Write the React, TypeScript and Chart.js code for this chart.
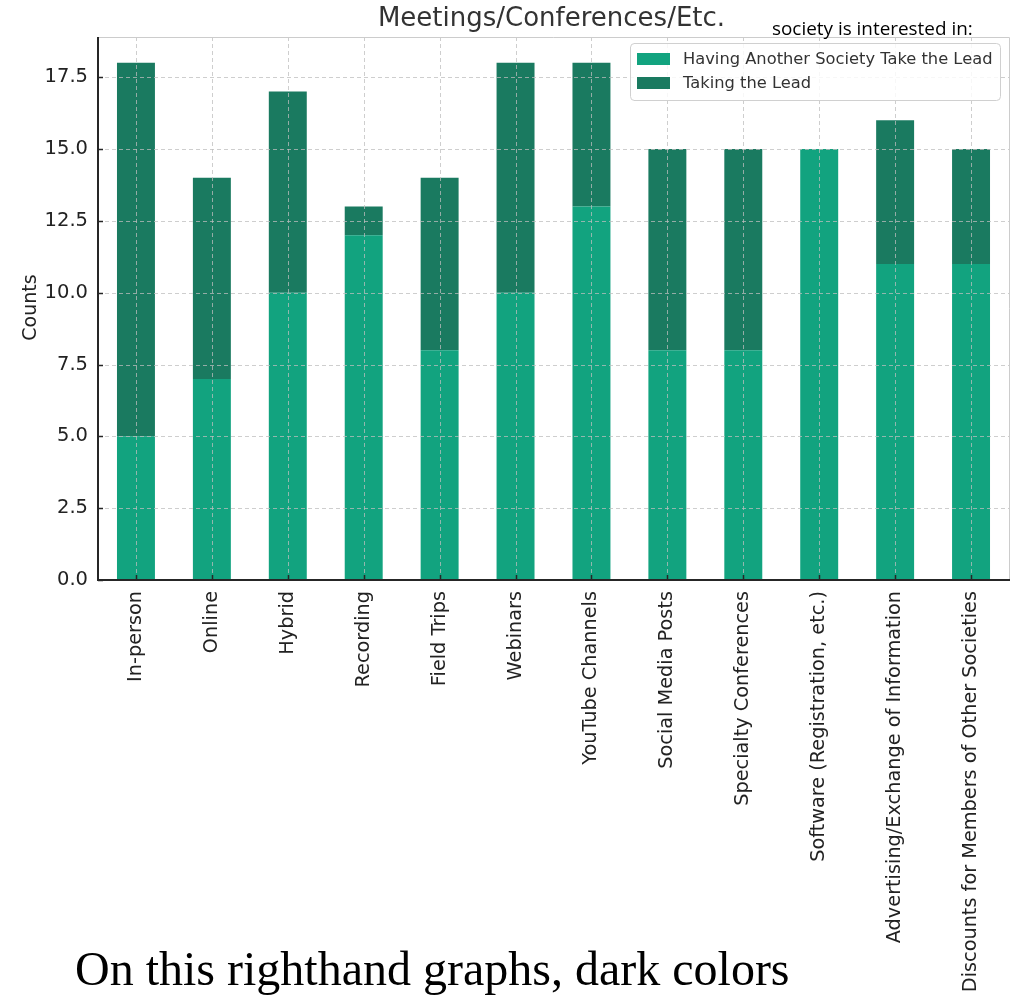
import React, { useEffect, useRef } from "react";
import { Chart, registerables } from "chart.js";

Chart.register(...registerables);

const categories = [
  "In-person",
  "Online",
  "Hybrid",
  "Recording",
  "Field Trips",
  "Webinars",
  "YouTube Channels",
  "Social Media Posts",
  "Specialty Conferences",
  "Software (Registration, etc.)",
  "Advertising/Exchange of Information",
  "Discounts for Members of Other Societies",
];

const anotherSocietyLead = [5, 7, 10, 12, 8, 10, 13, 8, 8, 15, 11, 11];
const takingTheLead = [13, 7, 7, 1, 6, 8, 5, 7, 7, 0, 5, 4];

const seriesNames = ["Having Another Society Take the Lead", "Taking the Lead"];
const seriesColors = ["#12a37f", "#1a7a60"];

const chartTitle = "Meetings/Conferences/Etc.";
const yAxisTitle = "Counts";
const yMax = 18.9;
const yStep = 2.5;

const FONT = "'DejaVu Sans', sans-serif";

const overlayPlugin = {
  id: "overlay",
  afterDatasetsDraw(chart: any) {
    const { ctx, chartArea } = chart;
    const { left, right, top, bottom } = chartArea;
    const xs = chart.scales.x;
    const ys = chart.scales.y;
    ctx.save();
    // grid
    ctx.strokeStyle = "rgba(190,190,190,0.75)";
    ctx.lineWidth = 1;
    ctx.setLineDash([4, 3]);
    ys.ticks.forEach((t: any) => {
      const y = Math.round(ys.getPixelForValue(t.value)) + 0.5;
      ctx.beginPath();
      ctx.moveTo(left, y);
      ctx.lineTo(right, y);
      ctx.stroke();
    });
    categories.forEach((_, i) => {
      const x = Math.round(xs.getPixelForValue(i)) + 0.5;
      ctx.beginPath();
      ctx.moveTo(x, top);
      ctx.lineTo(x, bottom);
      ctx.stroke();
    });
    ctx.setLineDash([]);
    // light spines
    ctx.strokeStyle = "#cccccc";
    ctx.lineWidth = 1;
    ctx.beginPath();
    ctx.moveTo(left, top + 0.5);
    ctx.lineTo(right + 0.5, top + 0.5);
    ctx.lineTo(right + 0.5, bottom);
    ctx.stroke();
    // dark spines
    ctx.strokeStyle = "#262626";
    ctx.lineWidth = 2;
    ctx.beginPath();
    ctx.moveTo(left, top);
    ctx.lineTo(left, bottom);
    ctx.lineTo(right + 1, bottom);
    ctx.stroke();
    // inward ticks
    ctx.lineWidth = 1.5;
    ys.ticks.forEach((t: any) => {
      const y = Math.round(ys.getPixelForValue(t.value)) + 0.5;
      ctx.beginPath();
      ctx.moveTo(left, y);
      ctx.lineTo(left + 5, y);
      ctx.stroke();
    });
    categories.forEach((_, i) => {
      const x = Math.round(xs.getPixelForValue(i)) + 0.5;
      ctx.beginPath();
      ctx.moveTo(x, bottom);
      ctx.lineTo(x, bottom - 5);
      ctx.stroke();
    });
    // legend
    const lx = 630, ly = 43, lw = 370, lh = 57, r = 4;
    ctx.fillStyle = "rgba(255,255,255,0.85)";
    ctx.strokeStyle = "#d0d0d0";
    ctx.lineWidth = 1;
    ctx.beginPath();
    ctx.moveTo(lx + r, ly + 0.5);
    ctx.lineTo(lx + lw - r, ly + 0.5);
    ctx.arcTo(lx + lw + 0.5, ly + 0.5, lx + lw + 0.5, ly + r, r);
    ctx.lineTo(lx + lw + 0.5, ly + lh - r);
    ctx.arcTo(lx + lw + 0.5, ly + lh + 0.5, lx + lw - r, ly + lh + 0.5, r);
    ctx.lineTo(lx + r, ly + lh + 0.5);
    ctx.arcTo(lx + 0.5, ly + lh + 0.5, lx + 0.5, ly + lh - r, r);
    ctx.lineTo(lx + 0.5, ly + r);
    ctx.arcTo(lx + 0.5, ly + 0.5, lx + r, ly + 0.5, r);
    ctx.closePath();
    ctx.fill();
    ctx.stroke();
    ctx.font = `16.3px ${FONT}`;
    ctx.textBaseline = "middle";
    ctx.textAlign = "left";
    seriesNames.forEach((name, i) => {
      const cy = 59 + i * 24;
      ctx.fillStyle = seriesColors[i];
      ctx.fillRect(637, cy - 6, 33, 12);
      ctx.fillStyle = "#333333";
      ctx.fillText(name, 683, cy + 1);
    });
    // title
    ctx.font = `26px ${FONT}`;
    ctx.textAlign = "center";
    ctx.textBaseline = "middle";
    ctx.fillStyle = "#333333";
    ctx.fillText(chartTitle, (left + right) / 2 - 2, 19);
    // y axis title
    ctx.save();
    ctx.translate(31, (top + bottom) / 2 - 1);
    ctx.rotate(-Math.PI / 2);
    ctx.font = `19px ${FONT}`;
    ctx.fillStyle = "#222222";
    ctx.textAlign = "center";
    ctx.textBaseline = "middle";
    ctx.fillText(yAxisTitle, 0, 0);
    ctx.restore();
    ctx.restore();
  },
};

export default function App() {
  const canvasRef = useRef<HTMLCanvasElement>(null);

  useEffect(() => {
    const canvas = canvasRef.current;
    if (!canvas) return;
    const chart = new Chart(canvas, {
      type: "bar",
      data: {
        labels: categories,
        datasets: [
          {
            label: seriesNames[0],
            data: anotherSocietyLead,
            backgroundColor: seriesColors[0],
            borderWidth: 0,
          },
          {
            label: seriesNames[1],
            data: takingTheLead,
            backgroundColor: seriesColors[1],
            borderWidth: 0,
          },
        ],
      },
      options: {
        responsive: false,
        animation: false,
        devicePixelRatio: 1,
        layout: { padding: { top: 37, right: 6, left: 0, bottom: 0 } },
        plugins: {
          legend: { display: false },
          title: { display: false },
          tooltip: { enabled: false },
        },
        datasets: {
          bar: { categoryPercentage: 1, barPercentage: 0.5 },
        },
        scales: {
          x: {
            stacked: true,
            grid: { display: false, drawTicks: false },
            border: { display: false },
            ticks: {
              autoSkip: false,
              minRotation: 90,
              maxRotation: 90,
              padding: 11,
              color: "#222222",
              font: { family: FONT, size: 19.3 },
            },
            afterFit: (scale: any) => {
              scale.height = 417;
            },
          },
          y: {
            stacked: true,
            min: 0,
            max: yMax,
            grid: { display: false, drawTicks: false },
            border: { display: false },
            ticks: {
              stepSize: yStep,
              padding: 10,
              color: "#222222",
              font: { family: FONT, size: 19.5 },
              callback: (v: any) => Number(v).toFixed(1),
            },
            afterBuildTicks: (scale: any) => {
              scale.ticks = scale.ticks.filter(
                (t: any) => Math.abs(t.value / yStep - Math.round(t.value / yStep)) < 1e-6
              );
            },
            afterFit: (scale: any) => {
              scale.width = 98;
            },
          },
        },
      },
      plugins: [overlayPlugin],
    });
    return () => chart.destroy();
  }, []);

  return (
    <div
      style={{
        position: "fixed",
        left: 0,
        top: 0,
        width: 1015,
        height: 997,
        background: "#ffffff",
        overflow: "hidden",
      }}
    >
      <canvas
        ref={canvasRef}
        width={1015}
        height={997}
        style={{ width: 1015, height: 997, display: "block" }}
      />
      <div
        style={{
          position: "absolute",
          left: 772,
          top: 15,
          fontFamily: "'Open Sans', sans-serif",
          fontSize: 18.9,
          lineHeight: "26px",
          color: "#000000",
          whiteSpace: "nowrap",
        }}
      >
        society is interested in:
      </div>
      <div
        style={{
          position: "absolute",
          left: 75,
          top: 941,
          fontFamily: "'Liberation Serif', 'Times New Roman', serif",
          fontSize: 48,
          lineHeight: "56px",
          color: "#000000",
          whiteSpace: "nowrap",
        }}
      >
        On this righthand graphs, dark colors
      </div>
    </div>
  );
}
